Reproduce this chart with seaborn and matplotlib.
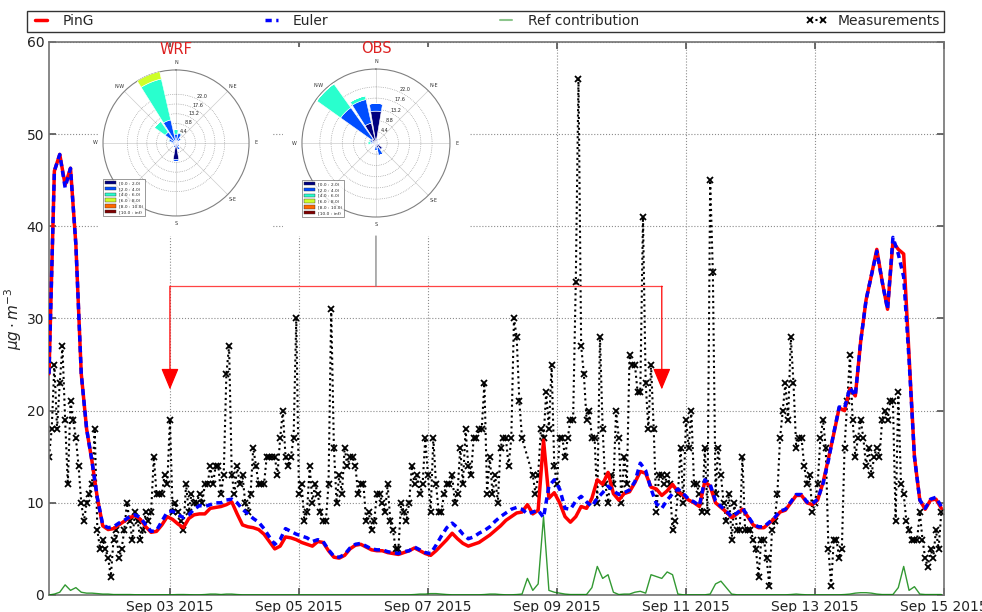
import matplotlib
matplotlib.use('Agg')
import matplotlib.pyplot as plt
import matplotlib.dates as mdates
import matplotlib.transforms as mtransforms
from matplotlib.patches import Patch, ConnectionPatch
from matplotlib.lines import Line2D
import numpy as np
import pandas as pd
import seaborn as sns

sns.set_theme(style='ticks')
plt.rcParams['font.family'] = ['DejaVu Sans']

# ---- time axes ----
start = pd.Timestamp('2015-09-01 03:00')
end = pd.Timestamp('2015-09-15 00:00')

# hourly measurements (nan = missing)
measurements = [
    15, 18, 25, 18, 23, 27, 19, 12, 21, 19,
    17, 14, 10, 8, 10, 11, 12, 18, 7, 5,
    6, 5, 4, 2, 6, 7, 4, 5, 7, 10,
    8, 6, 9, 8, 6, 7, 9, 8, 9, 15,
    11, 11, 11, 13, 12, 19, 9, 10, 9, 8,
    7, 12, 9, 11, 10, 10, 11, 10, 12, 12,
    14, 12, 14, 14, 11, 13, 24, 27, 13, 11,
    14, 12, 13, 10, 9, 11, 16, 14, 12, 12,
    12, 15, 15, 15, 15, 13, 17, 20, 15, 14,
    15, 17, 30, 11, 12, 8, 9, 14, 10, 12,
    11, 9, 8, 8, 12, 31, 16, 10, 13, 11,
    16, 14, 15, 15, 14, 11, 12, 12, 8, 9,
    7, 8, 11, 11, 10, 9, 12, 8, 7, 5,
    5, 10, 9, 8, 10, 14, 12, 13, 11, 12,
    17, 13, 9, 17, 12, 9, 9, 11, 12, 12,
    13, 10, 11, 16, 12, 18, 14, 13, 17, 17,
    18, 18, 23, 11, 15, 11, 13, 10, 16, 17,
    17, 14, 17, 30, 28, 21, 17, np.nan, np.nan, np.nan,
    13, 11, 13, 18, 17, 22, 18, 25, 14, 12,
    17, 17, 15, 17, 19, 19, 34, 56, 27, 24,
    19, 20, 17, 17, 10, 28, 18, 12, 10, 13,
    12, 20, 17, 10, 15, 12, 26, 25, 25, 22,
    22, 41, 23, 18, 25, 18, 9, 13, 13, 12,
    13, 12, 7, 8, 11, 16, 10, 19, 16, 20,
    12, 12, 11, 9, 16, 9, 45, 35, 11, 16,
    13, 10, 8, 11, 6, 10, 7, 7, 15, 7,
    7, 7, 6, 5, 2, 6, 6, 4, 1, 7,
    8, 11, 17, 20, 23, 19, 28, 23, 16, 17,
    17, 14, 12, 13, 9, 10, 12, 17, 19, 16,
    5, 1, 6, 6, 4, 5, 16, 21, 26, 19,
    15, 17, 19, 17, 14, 16, 13, 15, 16, 15,
    19, 20, 19, 21, 21, 8, 22, 12, 11, 8,
    7, 6, 6, 6, 9, 6, 4, 3, 5, 4,
    7, 5, 9,
]

# 2-hourly model output
ping = [
    24, 46, 47.8, 44.5, 46.3, 38, 24, 18, 14.5, 10.5,
    7.5, 7.1, 7.2, 7.6, 8.0, 8.4, 8.6, 8.2, 7.4, 6.8,
    6.9, 7.6, 8.5, 8.2, 7.7, 7.3, 8.3, 8.7, 8.8, 8.8,
    9.4, 9.5, 9.6, 9.8, 10.1, 8.8, 7.6, 7.4, 7.3, 7.1,
    6.6, 5.8, 5.0, 5.3, 6.3, 6.2, 6.0, 5.7, 5.5, 5.3,
    5.8, 5.7, 4.8, 4.1, 4.0, 4.3, 5.0, 5.4, 5.5, 5.2,
    4.9, 4.8, 4.8, 4.6, 4.5, 4.4, 4.6, 4.8, 5.1, 4.8,
    4.5, 4.3, 4.8, 5.4, 6.0, 6.7, 6.1, 5.6, 5.3, 5.5,
    5.7, 6.1, 6.5, 7.0, 7.5, 8.1, 8.5, 8.9, 9.0, 9.8,
    8.8, 9.2, 16.8, 10.5, 11.1, 10.0, 8.5, 7.9, 8.5, 9.6,
    9.4, 10.5, 12.5, 12.0, 13.3, 11.0, 10.3, 11.0, 11.2, 12.2,
    13.4, 13.2, 11.7, 11.5, 10.8, 11.3, 12.0, 11.2, 10.8, 10.3,
    10.0, 9.6, 12.3, 11.8, 10.0, 9.5, 9.0, 8.4, 8.8, 9.3,
    8.5, 7.6, 7.3, 7.3, 7.8, 8.3, 9.0, 9.2, 10.0, 10.8,
    10.8, 10.0, 9.8, 10.3, 12.2, 14.8, 17.5, 20.3, 20.0, 22.4,
    21.6, 27.5, 32, 34.7, 37.5, 34, 31, 38.3, 37.5, 37.0,
    26, 15, 10.3, 9.3, 10.3, 10.4, 9.4,
]
euler = [
    24, 46, 47.8, 44.2, 46.3, 38, 24, 18, 14.5, 10.5,
    7.6, 7.3, 7.4, 7.8, 8.1, 8.5, 8.7, 8.4, 7.6, 6.9,
    7.0, 8.0, 9.0, 9.1, 8.7, 8.4, 8.7, 9.3, 9.7, 9.6,
    9.8, 10.0, 10.0, 10.3, 10.4, 10.0, 9.3, 8.8, 8.3, 7.9,
    7.2, 6.3, 5.5, 6.0, 7.2, 6.9, 6.6, 6.4, 6.2, 5.8,
    6.0, 5.8, 4.9, 4.2, 4.1, 4.4, 5.1, 5.5, 5.6, 5.3,
    5.0, 4.9, 4.9, 4.7, 4.6, 4.5, 4.7, 4.8, 5.2, 4.9,
    4.6, 4.5, 5.4, 6.4, 7.3, 7.8, 7.3, 6.6, 6.1, 6.3,
    6.7, 7.0, 7.4, 8.0, 8.5, 8.9, 9.3, 9.5, 9.3, 8.8,
    9.0, 9.2, 8.4, 11.8, 12.5, 11.5, 9.4, 9.3, 10.2, 10.7,
    10.1, 9.6, 10.5, 11.1, 11.8, 11.3, 10.9, 11.1, 11.4, 12.3,
    14.3, 13.5, 11.5, 9.9, 9.4, 10.3, 11.0, 11.5, 11.0, 10.4,
    10.1, 9.7, 12.5, 12.0, 10.2, 9.6, 9.1, 8.5, 8.9, 9.4,
    8.6, 7.7, 7.4, 7.4, 7.9, 8.4, 9.1, 9.3, 10.1, 10.9,
    10.9, 10.1, 9.9, 10.4, 12.1, 14.6, 17.6, 20.4, 20.3, 22.5,
    21.6, 27.5, 32, 34.7, 37.3, 34, 31, 38.8, 37.0, 34.5,
    25.5, 15, 10.3, 9.4, 10.4, 10.6, 9.6,
]
ref_contrib = [
    0.0, 0.1, 0.3, 1.1, 0.5, 0.8, 0.3, 0.2, 0.2, 0.15,
    0.1, 0.1, 0.05, 0.05, 0.05, 0.05, 0.03, 0.03, 0.03, 0.03,
    0.02, 0.02, 0.02, 0.03, 0.05, 0.05, 0.03, 0.02, 0.02, 0.05,
    0.1, 0.1, 0.05, 0.1, 0.1, 0.05, 0.02, 0.02, 0.02, 0.02,
    0.02, 0.02, 0.02, 0.02, 0.02, 0.02, 0.02, 0.02, 0.02, 0.02,
    0.02, 0.02, 0.02, 0.02, 0.02, 0.02, 0.02, 0.02, 0.02, 0.02,
    0.02, 0.02, 0.02, 0.02, 0.02, 0.02, 0.02, 0.02, 0.05, 0.1,
    0.1, 0.15, 0.15, 0.1, 0.05, 0.02, 0.02, 0.02, 0.02, 0.02,
    0.02, 0.05, 0.1, 0.1, 0.05, 0.02, 0.02, 0.05, 0.1, 1.8,
    0.5, 1.2, 8.5, 0.5, 0.3, 0.2, 0.1, 0.05, 0.05, 0.05,
    0.05, 0.8, 3.1, 1.8, 2.2, 0.3, 0.05, 0.1, 0.1, 0.3,
    0.4, 0.2, 2.2, 2.0, 1.8, 2.5, 2.2, 0.1, 0.02, 0.02,
    0.02, 0.02, 0.02, 0.1, 1.2, 1.5, 0.8, 0.1, 0.02, 0.02,
    0.02, 0.02, 0.02, 0.02, 0.02, 0.02, 0.02, 0.02, 0.05, 0.1,
    0.05, 0.02, 0.02, 0.02, 0.02, 0.02, 0.02, 0.02, 0.05, 0.1,
    0.2, 0.25, 0.25, 0.2, 0.1, 0.05, 0.05, 0.05, 0.8, 3.1,
    0.5, 0.9, 0.1, 0.05, 0.05, 0.05, 0.05,
]

# wind roses: % frequency per direction (16 sectors from N clockwise), one row per speed bin
directions = np.arange(16) * 22.5
speed_bins = ['[0.0 : 2.0)', '[2.0 : 4.0)', '[4.0 : 6.0)', '[6.0 : 8.0)', '[8.0 : 10.0)', '[10.0 : inf)']
wrf_freq = np.array([
    [1.0, 1.0, 0.8, 0.5, 0.6, 0.8, 1.0, 1.5, 7.5, 1.2, 0.8, 0.6, 0.6, 0.8, 1.0, 1.2],
    [3.0, 3.5, 2.0, 1.0, 0.8, 0.8, 1.0, 1.8, 0.8, 1.0, 1.0, 1.0, 1.5, 2.5, 5.0, 9.5],
    [2.0, 0.5, 0.3, 0, 0, 0, 0, 0, 0, 0, 0, 0, 0.3, 0.5, 6.0, 19.0],
    [0, 0, 0, 0, 0, 0, 0, 0, 0, 0, 0, 0, 0, 0, 0, 3.5],
    [0] * 16,
    [0] * 16,
])
obs_freq = np.array([
    [12.5, 1.5, 1.0, 0.8, 0.8, 1.5, 3.0, 2.0, 1.0, 0.8, 0.8, 0.8, 1.0, 1.5, 2.0, 8.0],
    [3.0, 0.5, 0.3, 0.3, 0.3, 0.5, 0.5, 3.0, 2.0, 0.5, 0.3, 0.5, 1.0, 1.0, 15.0, 9.5],
    [0, 0, 0, 0, 0, 0, 0, 0, 0, 0, 0, 0, 1.2, 0.5, 11.5, 1.5],
    [0] * 16,
    [0] * 16,
    [0] * 16,
])
ring_values = [4.4, 8.8, 13.2, 17.6, 22.0]
compass = ['N', 'N-E', 'E', 'S-E', 'S', 'S-W', 'W', 'N-W']

# period used for the roses
rose_start = pd.Timestamp('2015-09-03 00:00')
rose_end = pd.Timestamp('2015-09-10 15:00')

meas_df = pd.DataFrame({'time': pd.date_range(start, periods=len(measurements), freq='h'),
                        'value': measurements}).dropna()
model_df = pd.DataFrame({'time': pd.date_range(start, periods=len(ping), freq='2h'),
                         'PinG': ping, 'Euler': euler, 'Ref': ref_contrib})

fig = plt.figure(figsize=(9.82, 6.12), dpi=100)
ax = fig.add_axes([0.0499, 0.0278, 0.9114, 0.9036])

meas_ls = (0, (1, 1.6))
euler_ls = (0, (1.8, 1.3))
sns.lineplot(data=meas_df, x='time', y='value', ax=ax, color='black', lw=1.5,
             linestyle=meas_ls, marker='x', markersize=4, markeredgewidth=1.3,
             markeredgecolor='black', estimator=None, legend=False, zorder=2)
sns.lineplot(data=model_df, x='time', y='PinG', ax=ax, color='red', lw=2.5,
             estimator=None, legend=False, zorder=3)
sns.lineplot(data=model_df, x='time', y='Euler', ax=ax, color='blue', lw=2.5,
             linestyle=euler_ls, estimator=None, legend=False, zorder=4)
sns.lineplot(data=model_df, x='time', y='Ref', ax=ax, color='green', lw=1,
             alpha=0.8, estimator=None, legend=False, zorder=5)

ax.set_xlim(start, end)
ax.set_ylim(0, 60)
ax.set_yticks(np.arange(0, 61, 10))
ax.xaxis.set_major_locator(mdates.DayLocator(bymonthday=[3, 5, 7, 9, 11, 13, 15]))
ax.xaxis.set_major_formatter(mdates.DateFormatter('%b %d %Y'))
ax.set_xlabel('')
ax.set_ylabel(r'$\mu g\cdot m^{-3}$', fontsize=11, labelpad=2)
ax.grid(True, color='0.55', ls=':', lw=0.8)
ax.tick_params(direction='in', top=True, right=True, length=5, labelsize=10,
               color='0.35', labelcolor='#222222')
for s in ax.spines.values():
    s.set_color('0.45')
    s.set_linewidth(1.2)

# annotation of the rose period
ann_y, tip_y = 33.5, 22.3
ax.plot([rose_start, rose_end], [ann_y, ann_y], color='#ff4444', lw=0.9, zorder=6)
for t in (rose_start, rose_end):
    ax.annotate('', xy=(t, tip_y), xytext=(t, ann_y),
                arrowprops=dict(arrowstyle='-|>,head_length=0.6,head_width=0.25',
                                color='red', lw=0.9, mutation_scale=22,
                                shrinkA=0, shrinkB=0), zorder=6)

# legend
handles = [
    Line2D([], [], color='red', lw=2.5),
    Line2D([], [], color='blue', lw=2.5, ls=euler_ls),
    Line2D([], [], color='green', lw=1.5, alpha=0.45),
    Line2D([], [], color='black', lw=1.5, ls=meas_ls, marker='x', ms=4, mew=1.3),
]
labels = ['PinG', 'Euler', 'Ref contribution', 'Measurements']
leg = fig.legend(handles, labels, loc='lower left', bbox_to_anchor=(0.0275, 0.948, 0.9335, 0.032),
                 mode='expand', ncol=4, borderaxespad=0, fontsize=10, frameon=True,
                 fancybox=False, edgecolor='black', handlelength=1.5, borderpad=0.25,
                 numpoints=2)
leg.get_frame().set_linewidth(1.0)

# wind roses
colors = plt.cm.jet(np.linspace(0, 1, len(speed_bins)))


def draw_rose(bg_rect, rose_rect, freq, title, rmax):
    bg = fig.add_axes(bg_rect)
    bg.set_facecolor('white')
    bg.set_xticks([])
    bg.set_yticks([])
    for s in bg.spines.values():
        s.set_visible(False)
    rax = fig.add_axes(rose_rect, projection='polar')
    rax.set_theta_zero_location('N')
    rax.set_theta_direction(-1)
    theta = np.deg2rad(directions)
    width = 2 * np.pi / len(directions) * 0.85
    bottom = np.zeros(len(directions))
    for i, row in enumerate(freq):
        rax.bar(theta, row, width=width, bottom=bottom, color=colors[i],
                edgecolor='white', lw=0.4, zorder=3)
        bottom = bottom + row
    rax.set_ylim(0, rmax)
    rax.set_rgrids(ring_values, labels=['%.1f' % v for v in ring_values], angle=25, fontsize=3.5)
    compass_angles = np.arange(0, 360, 45)
    rax.set_thetagrids(compass_angles, labels=[''] * len(compass_angles))
    for a, lab in zip(np.deg2rad(compass_angles), compass):
        if lab == 'S-W':  # hidden behind the legend box
            continue
        rax.text(a, rmax * 1.1, lab, ha='center', va='center', fontsize=3.5, color='0.2')
    rax.yaxis.grid(True, color='0.55', ls=':', lw=0.5)
    rax.xaxis.grid(True, color='0.8', ls='-', lw=0.5)
    rax.spines['polar'].set_color('0.5')
    rax.spines['polar'].set_linewidth(0.8)
    rax.text(0.5, 1.09, title, transform=rax.transAxes, ha='center', va='bottom',
             color='#dd2222', fontsize=10.5)
    patches = [Patch(facecolor=c, edgecolor='0.2', lw=0.3) for c in colors]
    lg = rax.legend(patches, speed_bins, loc='lower left', bbox_to_anchor=(0.0, 0.0),
                    borderaxespad=0, fontsize=3.2, fancybox=False, edgecolor='0.3',
                    handlelength=2.5, handleheight=0.8, labelspacing=0.35, borderpad=0.4)
    lg.get_frame().set_linewidth(0.5)
    return rax


draw_rose([0.0998, 0.6144, 0.1772, 0.3088], [0.1049, 0.6471, 0.1487, 0.2386], wrf_freq, 'WRF', 33)
obs_ax = draw_rose([0.2882, 0.6144, 0.1904, 0.3088], [0.3075, 0.6454, 0.1507, 0.2418], obs_freq, 'OBS', 29)

# gray link from the OBS rose to the period line
obs_cx = 0.3075 + 0.1507 / 2
blend = mtransforms.blended_transform_factory(fig.transFigure, ax.transData)
link = ConnectionPatch(xyA=(obs_cx, 0.6144), coordsA=fig.transFigure,
                       xyB=(obs_cx, ann_y), coordsB=blend, color='0.5', lw=0.9)
fig.add_artist(link)

fig.savefig('out.png', dpi=100)
